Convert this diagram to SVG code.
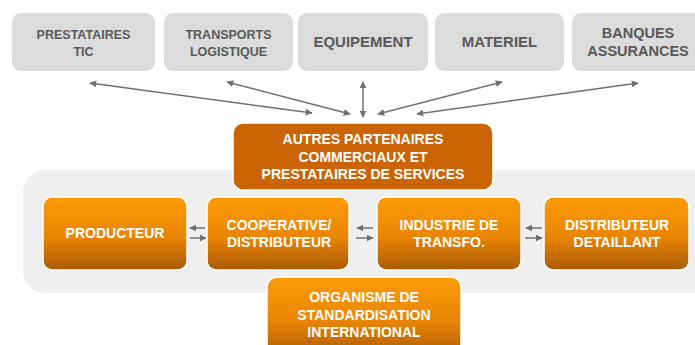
<svg xmlns="http://www.w3.org/2000/svg" width="695" height="345" viewBox="0 0 695 345">
<defs>
<style>
.gbox{fill:#dcdcdc;}
.gt{font-family:"Liberation Sans",Arial,sans-serif;font-weight:bold;fill:#595959;text-anchor:middle;}
.obox{fill:url(#og);stroke:#ffffff;stroke-width:1.5;}
.ot{font-family:"Liberation Sans",Arial,sans-serif;font-weight:bold;fill:#ffffff;text-anchor:middle;font-size:14px;}
.ln{stroke:#707070;stroke-width:1.5;fill:none;marker-start:url(#ah);marker-end:url(#ah);}
.sl{stroke:#707070;stroke-width:1.5;fill:none;marker-end:url(#ah);}
</style>
<linearGradient id="og" x1="0" y1="0" x2="0" y2="1">
<stop offset="0" stop-color="#fd9b06"/>
<stop offset="0.55" stop-color="#ea8504"/>
<stop offset="1" stop-color="#a85a05"/>
</linearGradient>
<marker id="ah" viewBox="0 0 10 10" refX="9" refY="5" markerWidth="7" markerHeight="7" orient="auto-start-reverse" markerUnits="userSpaceOnUse">
<path d="M0,0 L10,5 L0,10 z" fill="#707070"/>
</marker>
</defs>
<rect x="0" y="0" width="695" height="345" fill="#ffffff"/>
<rect id="panel" x="23" y="170" width="700" height="123" rx="22" fill="#efefef"/>

<g id="n-tic"><rect class="gbox" x="12" y="13" width="143" height="58" rx="9"/>
<text class="gt" font-size="12.5" x="83.5" y="39">PRESTATAIRES</text><text class="gt" font-size="12.5" x="83.5" y="56">TIC</text></g>
<g id="n-transports"><rect class="gbox" x="164" y="13" width="129" height="58" rx="9"/>
<text class="gt" font-size="12.5" x="228.5" y="39">TRANSPORTS</text><text class="gt" font-size="12.5" x="228.5" y="56">LOGISTIQUE</text></g>
<g id="n-equipement"><rect class="gbox" x="298" y="13" width="130" height="58" rx="9"/>
<text class="gt" font-size="15" x="363" y="47">EQUIPEMENT</text></g>
<g id="n-materiel"><rect class="gbox" x="435" y="13" width="129" height="58" rx="9"/>
<text class="gt" font-size="15" x="499.5" y="47">MATERIEL</text></g>
<g id="n-banques"><rect class="gbox" x="572" y="13" width="133" height="58" rx="9"/>
<text class="gt" font-size="14.5" x="638" y="38">BANQUES</text><text class="gt" font-size="14.5" x="638" y="56">ASSURANCES</text></g>

<g id="connectors">
<line class="ln" x1="312" y1="113" x2="90" y2="83"/>
<line class="ln" x1="350" y1="114" x2="227" y2="82"/>
<line class="ln" x1="363" y1="117" x2="363" y2="82"/>
<line class="ln" x1="378" y1="114" x2="502" y2="82"/>
<line class="ln" x1="417" y1="114" x2="638" y2="83"/>
<line class="sl" x1="205" y1="228" x2="190" y2="228"/>
<line class="sl" x1="190" y1="238" x2="206" y2="238"/>
<line class="sl" x1="373" y1="228" x2="357" y2="228"/>
<line class="sl" x1="356" y1="238" x2="373" y2="238"/>
<line class="sl" x1="542" y1="228" x2="526" y2="228"/>
<line class="sl" x1="525" y1="238" x2="542" y2="238"/>
</g>

<g id="n-autres"><rect x="233" y="123" width="260" height="67" rx="10" fill="#ca6404" stroke="#ffffff" stroke-width="1.5"/>
<text class="ot" x="363" y="144">AUTRES PARTENAIRES</text>
<text class="ot" x="363" y="162">COMMERCIAUX ET</text>
<text class="ot" x="363" y="179">PRESTATAIRES DE SERVICES</text></g>

<g id="n-producteur"><rect class="obox" x="43" y="197" width="144" height="73" rx="9"/>
<text class="ot" x="115" y="238">PRODUCTEUR</text></g>
<g id="n-cooperative"><rect class="obox" x="207" y="197" width="142" height="73" rx="9"/>
<text class="ot" x="279" y="230">COOPERATIVE/</text><text class="ot" x="279" y="247">DISTRIBUTEUR</text></g>
<g id="n-industrie"><rect class="obox" x="377" y="197" width="144" height="73" rx="9"/>
<text class="ot" x="449" y="230">INDUSTRIE DE</text><text class="ot" x="449" y="247">TRANSFO.</text></g>
<g id="n-distributeur"><rect class="obox" x="544" y="197" width="145" height="73" rx="9"/>
<text class="ot" x="617" y="230">DISTRIBUTEUR</text><text class="ot" x="617" y="247">DETAILLANT</text></g>

<g id="n-organisme"><rect class="obox" x="267" y="277" width="194" height="80" rx="10" stroke-width="2"/>
<text class="ot" x="364" y="302">ORGANISME DE</text>
<text class="ot" x="364" y="320">STANDARDISATION</text>
<text class="ot" x="364" y="337">INTERNATIONAL</text></g>
</svg>
